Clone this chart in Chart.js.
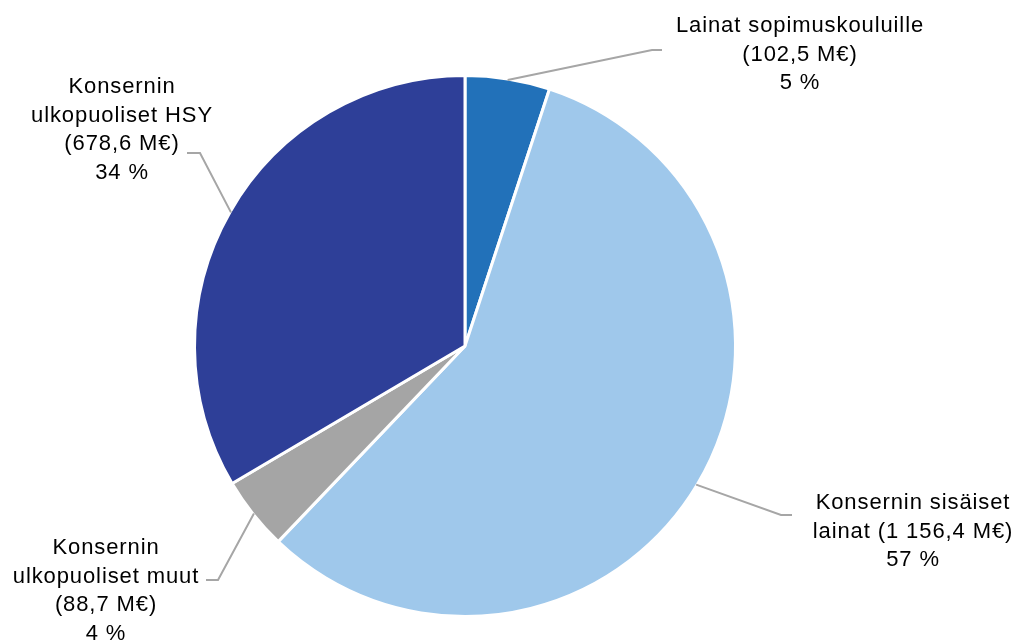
<!DOCTYPE html>
<html>
<head>
<meta charset="utf-8">
<script src="https://cdn.jsdelivr.net/npm/chart.js@4"></script>
<style>
    html, body { margin: 0; padding: 0; background: #fff; }
    #wrap { width: 1018px; height: 640px; }
</style>
</head>
<body>
<div id="wrap"><canvas id="myChart" width="1018" height="640"></canvas></div>
<script>
// Slices, clockwise from 12 o'clock.
const categories = ['Lainat sopimuskouluille', 'Konsernin sisäiset lainat', 'Konsernin ulkopuoliset muut', 'Konsernin ulkopuoliset HSY'];
const values = [102.5, 1156.4, 88.7, 678.6];
const percents = [5, 57, 4, 34];
// How the category names are wrapped in the labels.
const nameLines = [
    ['Lainat sopimuskouluille'],
    ['Konsernin sisäiset', 'lainat'],
    ['Konsernin', 'ulkopuoliset muut'],
    ['Konsernin', 'ulkopuoliset HSY'],
];
const colors = ['#2271B9', '#9FC8EB', '#A5A5A5', '#2E3F98'];

// Label placement: text centre, first line y, elbow and end of leader line.
const labelPlaces = [
    { x: 800, y: 26, inline: false, elbow: [652, 50], end: [662, 50] },
    { x: 913, y: 503, inline: true, elbow: [781, 515], end: [792, 515] },
    { x: 106, y: 548, inline: false, elbow: [218, 580], end: [206, 580] },
    { x: 122, y: 87, inline: false, elbow: [200, 153], end: [187, 153] },
];

const formatValue = (v) => {
    const parts = v.toFixed(1).split('.');
    const whole = parts[0].replace(/\B(?=(\d{3})+(?!\d))/g, ' ');
    return `(${whole},${parts[1]} M€)`;
};

const labelPlugin = {
    id: 'sliceLabels',
    afterDatasetsDraw(chart) {
        const ctx = chart.ctx;
        const arcs = chart.getDatasetMeta(0).data;
        ctx.save();
        arcs.forEach((arc, i) => {
            const place = labelPlaces[i];
            const mid = (arc.startAngle + arc.endAngle) / 2;
            const sx = arc.x + Math.cos(mid) * (arc.outerRadius - 1);
            const sy = arc.y + Math.sin(mid) * (arc.outerRadius - 1);

            // Leader line.
            ctx.strokeStyle = '#A6A6A6';
            ctx.lineWidth = 2;
            ctx.beginPath();
            ctx.moveTo(sx, sy);
            ctx.lineTo(place.elbow[0], place.elbow[1]);
            ctx.lineTo(place.end[0], place.end[1]);
            ctx.stroke();

            // Text.
            const lines = nameLines[i].slice();
            if (place.inline) {
                lines[lines.length - 1] += ' ' + formatValue(values[i]);
            } else {
                lines.push(formatValue(values[i]));
            }
            lines.push(percents[i] + ' %');
            ctx.fillStyle = '#000';
            ctx.font = '22px "Liberation Sans", Arial, sans-serif';
            ctx.letterSpacing = '0.9px';
            ctx.textAlign = 'center';
            ctx.textBaseline = 'middle';
            lines.forEach((line, j) => {
                ctx.fillText(line, place.x, place.y + j * 28.5);
            });
        });
        ctx.restore();
    }
};

const ctx = document.getElementById('myChart').getContext('2d');
const chart = new Chart(ctx, {
    type: 'pie',
    data: {
        labels: categories,
        datasets: [{
            data: values,
            backgroundColor: colors,
            borderColor: '#ffffff',
            borderWidth: 3,
        }]
    },
    options: {
        responsive: false,
        animation: false,
        layout: {
            padding: { left: 193, right: 281, top: 74, bottom: 22 }
        },
        plugins: {
            legend: { display: false },
            tooltip: { enabled: false },
        }
    },
    plugins: [labelPlugin]
});
</script>
</body>
</html>
